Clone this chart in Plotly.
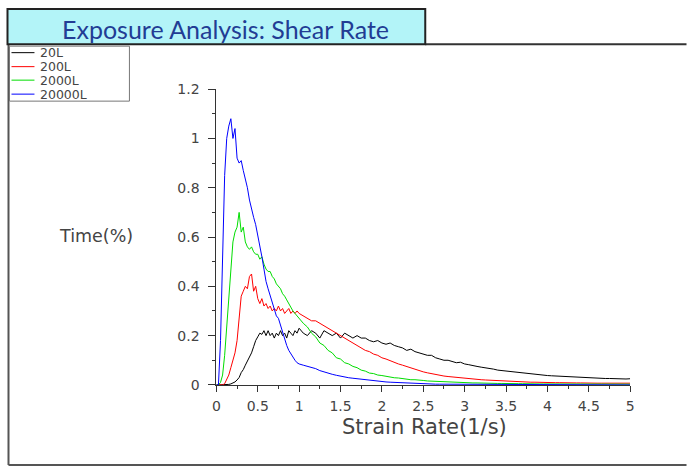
import plotly.graph_objects as go

W, H = 691, 474

# The captured picture maps figure pixels to picture pixels roughly as
#   pic_x = SX * fig_x + OX,  pic_y = SY * fig_y + OY
# (page margin / capture scaling), so positions below are given in picture
# pixels of the reference and converted back to figure fractions.
SX, OX = 0.989, 2.5
SY, OY = 0.967, 7.8

# ---------------- data ----------------
strain_rate = [
    0, 0.025, 0.05, 0.075, 0.1, 0.125, 0.15, 0.175, 0.2, 0.225,
    0.25, 0.275, 0.3, 0.325, 0.35, 0.375, 0.4, 0.425, 0.45, 0.475,
    0.5, 0.525, 0.55, 0.575, 0.6, 0.625, 0.65, 0.675, 0.7, 0.725,
    0.75, 0.775, 0.8, 0.825, 0.85, 0.875, 0.9, 0.925, 0.95, 0.975, 1.0,
    1.05, 1.1, 1.15, 1.2, 1.25, 1.3, 1.35, 1.4, 1.45, 1.5,
    1.55, 1.6, 1.65, 1.7, 1.75, 1.8, 1.85, 1.9, 1.95, 2.0,
    2.05, 2.1, 2.15, 2.2, 2.25, 2.3, 2.35, 2.4, 2.45, 2.5,
    2.55, 2.6, 2.65, 2.7, 2.75, 2.8, 2.85, 2.9, 2.95, 3.0,
    3.05, 3.1, 3.15, 3.2, 3.25, 3.3, 3.35, 3.4, 3.45, 3.5,
    3.55, 3.6, 3.65, 3.7, 3.75, 3.8, 3.85, 3.9, 3.95, 4.0,
    4.05, 4.1, 4.15, 4.2, 4.25, 4.3, 4.35, 4.4, 4.45, 4.5,
    4.55, 4.6, 4.65, 4.7, 4.75, 4.8, 4.85, 4.9, 4.95, 5.0,
]

series_names = ["20L", "200L", "2000L", "20000L"]
series_colors = ["#000000", "#ff0000", "#00dd00", "#0000ff"]

time_20L = [
    0, 0, 0, 0, 0, 0, 0.002, 0.004, 0.008, 0.012,
    0.02, 0.03, 0.05, 0.062, 0.08, 0.095, 0.11, 0.13, 0.155, 0.18,
    0.195, 0.21, 0.205, 0.22, 0.2, 0.22, 0.2, 0.21, 0.19, 0.21,
    0.2, 0.22, 0.2, 0.21, 0.19, 0.22, 0.21, 0.2, 0.22, 0.21, 0.23,
    0.21, 0.2, 0.22, 0.21, 0.19, 0.22, 0.21, 0.2, 0.21, 0.19,
    0.21, 0.2, 0.19, 0.2, 0.19, 0.19, 0.18, 0.175, 0.18, 0.17,
    0.165, 0.17, 0.16, 0.155, 0.15, 0.14, 0.145, 0.135, 0.13, 0.125,
    0.12, 0.12, 0.11, 0.105, 0.1, 0.1, 0.095, 0.09, 0.092, 0.085,
    0.082, 0.08, 0.075, 0.072, 0.07, 0.066, 0.064, 0.06, 0.058, 0.057,
    0.053, 0.052, 0.05, 0.048, 0.046, 0.045, 0.042, 0.041, 0.04, 0.038,
    0.037, 0.036, 0.035, 0.034, 0.033, 0.032, 0.031, 0.03, 0.029, 0.029,
    0.028, 0.027, 0.027, 0.026, 0.026, 0.025, 0.025, 0.024, 0.024, 0.025,
]

time_200L = [
    0, 0, 0, 0, 0.005, 0.02, 0.04, 0.07, 0.1, 0.13,
    0.18, 0.28, 0.36, 0.38, 0.4, 0.39, 0.44, 0.45, 0.38, 0.4,
    0.35, 0.33, 0.35, 0.32, 0.33, 0.31, 0.32, 0.3, 0.31, 0.3,
    0.32, 0.3, 0.31, 0.29, 0.3, 0.31, 0.29, 0.3, 0.29, 0.3, 0.29,
    0.28, 0.27, 0.26, 0.26, 0.25, 0.24, 0.23, 0.22, 0.21, 0.2,
    0.19, 0.18, 0.17, 0.16, 0.15, 0.14, 0.135, 0.125, 0.12, 0.11,
    0.105, 0.098, 0.09, 0.085, 0.08, 0.074, 0.068, 0.062, 0.058, 0.053,
    0.049, 0.045, 0.042, 0.039, 0.036, 0.034, 0.032, 0.03, 0.029, 0.027,
    0.026, 0.024, 0.023, 0.021, 0.02, 0.019, 0.018, 0.017, 0.016, 0.015,
    0.014, 0.014, 0.013, 0.012, 0.012, 0.011, 0.011, 0.01, 0.01, 0.01,
    0.009, 0.009, 0.009, 0.008, 0.008, 0.008, 0.008, 0.008, 0.007, 0.007,
    0.007, 0.007, 0.007, 0.007, 0.007, 0.007, 0.007, 0.007, 0.007, 0.007,
]

time_2000L = [
    0, 0, 0.01, 0.04, 0.12, 0.24, 0.38, 0.5, 0.58, 0.62,
    0.64, 0.7, 0.62, 0.64, 0.58, 0.56, 0.55, 0.56, 0.54, 0.53,
    0.53, 0.51, 0.52, 0.49, 0.47, 0.46, 0.46, 0.44, 0.43, 0.41,
    0.4, 0.39, 0.37, 0.36, 0.345, 0.33, 0.31, 0.3, 0.29, 0.28, 0.27,
    0.25, 0.235, 0.21, 0.195, 0.17, 0.16, 0.14, 0.13, 0.11, 0.105,
    0.09, 0.085, 0.075, 0.07, 0.06, 0.056, 0.048, 0.046, 0.04, 0.038,
    0.034, 0.032, 0.029, 0.028, 0.025, 0.024, 0.021, 0.021, 0.018, 0.018,
    0.016, 0.015, 0.014, 0.013, 0.012, 0.012, 0.011, 0.01, 0.01, 0.009,
    0.009, 0.008, 0.008, 0.007, 0.007, 0.007, 0.006, 0.006, 0.006, 0.005,
    0.005, 0.005, 0.005, 0.005, 0.004, 0.004, 0.004, 0.004, 0.004, 0.004,
    0.003, 0.003, 0.003, 0.003, 0.003, 0.003, 0.003, 0.003, 0.003, 0.003,
    0.003, 0.003, 0.003, 0.003, 0.003, 0.003, 0.003, 0.003, 0.003, 0.003,
]

time_20000L = [
    0, 0, 0.18, 0.55, 0.85, 1.0, 1.05, 1.08, 1.0, 1.04,
    0.92, 0.9, 0.91, 0.87, 0.84, 0.8, 0.75, 0.71, 0.68, 0.65,
    0.61, 0.57, 0.52, 0.47, 0.42, 0.39, 0.36, 0.33, 0.3, 0.28,
    0.27, 0.24, 0.21, 0.185, 0.16, 0.14, 0.125, 0.11, 0.1, 0.09, 0.085,
    0.08, 0.076, 0.072, 0.066, 0.058, 0.052, 0.047, 0.043, 0.039, 0.035,
    0.032, 0.029, 0.027, 0.025, 0.022, 0.02, 0.018, 0.017, 0.015, 0.014,
    0.012, 0.011, 0.01, 0.009, 0.008, 0.007, 0.006, 0.006, 0.005, 0.005,
    0.004, 0.004, 0.003, 0.003, 0.003, 0.002, 0.002, 0.002, 0.002, 0.001,
    0.001, 0.001, 0.001, 0.001, 0.001, 0.001, 0, 0, 0, 0,
    0, 0, 0, 0, 0, 0, 0, 0, 0, 0,
    0, 0, 0, 0, 0, 0, 0, 0, 0, 0,
    0, 0, 0, 0, 0, 0, 0, 0, 0, 0,
]

series_values = [time_20L, time_200L, time_2000L, time_20000L]

title_text = "Exposure Analysis: Shear Rate"
x_title = "Strain Rate(1/s)"
y_title = "Time(%)"


# ---------------- figure ----------------
def px(x):
    """picture x pixel -> paper fraction (clamped to the figure)"""
    f = (x - OX) / SX
    f = min(max(f, 0.5), W - 0.5)
    return f / W


def py(y):
    """picture y pixel (from top) -> paper fraction (clamped to the figure)"""
    f = (y - OY) / SY
    f = min(max(f, 1.0), H - 1.0)
    return 1 - f / H


fig = go.Figure()
for name, color, ys in zip(series_names, series_colors, series_values):
    fig.add_trace(go.Scatter(
        x=strain_rate, y=ys, mode="lines", name=name,
        line=dict(color=color, width=1), showlegend=False,
    ))

base_font = "DejaVu Sans, sans-serif"
tick_font = dict(family=base_font, size=14, color="#444444")
axis_col = "#333333"

fig.update_layout(
    width=W, height=H,
    margin=dict(l=0, r=0, t=0, b=0),
    paper_bgcolor="white", plot_bgcolor="white",
    showlegend=False,
    xaxis=dict(
        domain=[px(215), px(629)], range=[0, 5], tick0=0, dtick=0.5,
        ticks="outside", ticklen=6, tickcolor=axis_col, tickwidth=1,
        showline=True, linecolor=axis_col, linewidth=1,
        showgrid=False, zeroline=False, tickfont=tick_font,
        ticklabelstandoff=2,
        minor=dict(dtick=0.25, ticklen=3, ticks="outside", tickcolor=axis_col),
    ),
    yaxis=dict(
        domain=[py(385), py(89)], range=[0, 1.2], tick0=0, dtick=0.2,
        ticks="outside", ticklen=7, tickcolor=axis_col, tickwidth=1,
        showline=True, linecolor=axis_col, linewidth=1,
        showgrid=False, zeroline=False, tickfont=tick_font,
        ticklabelstandoff=6,
        minor=dict(dtick=0.1, ticklen=3, ticks="outside", tickcolor=axis_col),
    ),
)

shapes = []
annotations = []

# outer frame lines
frame_col = "#555555"
shapes.append(dict(type="line", xref="paper", yref="paper",
                   x0=px(7), x1=px(7), y0=py(44), y1=py(470),
                   line=dict(color=frame_col, width=2)))
shapes.append(dict(type="line", xref="paper", yref="paper",
                   x0=px(7), x1=px(691), y0=py(470), y1=py(470),
                   line=dict(color=frame_col, width=2)))
shapes.append(dict(type="line", xref="paper", yref="paper",
                   x0=px(424), x1=px(691), y0=py(44), y1=py(44),
                   line=dict(color="#333333", width=2)))

# title box
shapes.append(dict(type="rect", xref="paper", yref="paper",
                   x0=px(6), x1=px(424), y0=py(44), y1=py(3),
                   fillcolor="#b3f4f8", line=dict(color="#222222", width=2)))
annotations.append(dict(text=title_text, xref="paper", yref="paper",
                        x=px(224), y=py(29), xanchor="center", yanchor="middle",
                        showarrow=False,
                        font=dict(family="Lato, Open Sans, sans-serif", size=25, color="#223c94")))

# legend box
shapes.append(dict(type="rect", xref="paper", yref="paper",
                   x0=px(8), x1=px(128), y0=py(101), y1=py(46),
                   fillcolor="white", line=dict(color="#777777", width=1)))
leg_rows = [52.5, 66.5, 80, 94]
for name, color, yy in zip(series_names, series_colors, leg_rows):
    shapes.append(dict(type="line", xref="paper", yref="paper",
                       x0=px(10), x1=px(33), y0=py(yy), y1=py(yy),
                       line=dict(color=color, width=1)))
    annotations.append(dict(text=name, xref="paper", yref="paper",
                            x=px(37), y=py(yy), xanchor="left", yanchor="middle",
                            showarrow=False,
                            font=dict(family=base_font, size=12.5, color="#444444")))

# axis titles
annotations.append(dict(text=y_title, xref="paper", yref="paper",
                        x=px(95), y=py(236), xanchor="center", yanchor="middle",
                        showarrow=False,
                        font=dict(family=base_font, size=17.5, color="#444444")))
annotations.append(dict(text=x_title, xref="paper", yref="paper",
                        x=px(423), y=py(427), xanchor="center", yanchor="middle",
                        showarrow=False,
                        font=dict(family=base_font, size=21, color="#444444")))

fig.update_layout(shapes=shapes, annotations=annotations)

fig.write_html("out.html")
